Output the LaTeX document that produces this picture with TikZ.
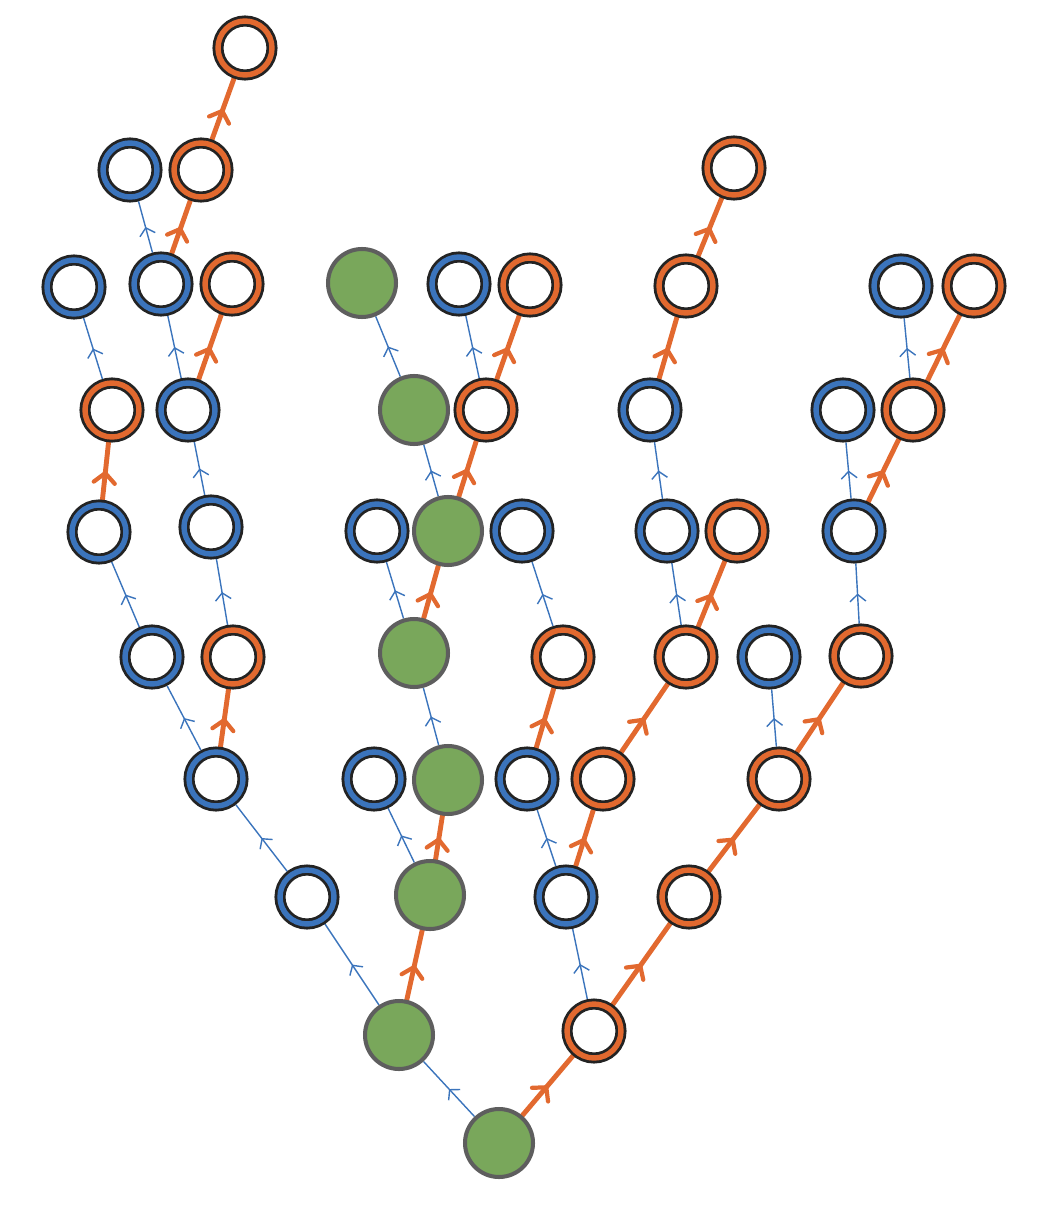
\documentclass[tikz,border=0pt]{standalone}
\usetikzlibrary{backgrounds, decorations.markings, arrows.meta}

\definecolor{ringblue}{HTML}{3B74BC}
\definecolor{ringorange}{HTML}{E2692F}
\definecolor{ringblack}{HTML}{232323}
\definecolor{dotgreen}{HTML}{79A75B}
\definecolor{dotgray}{HTML}{5E5E5E}

\tikzset{
	ring/.style={circle, fill=white, draw=ringblack, line width=1.6pt,
		double distance=3.1pt, minimum size=1.08cm, inner sep=0pt, outer sep=3.1pt},
	bluering/.style={ring, double=ringblue},
	orangering/.style={ring, double=ringorange},
	greendot/.style={circle, fill=dotgreen, draw=dotgray, line width=2.3pt,
		minimum size=1.36cm, inner sep=0pt},
	blueedge/.style={color=ringblue, line width=0.8pt, postaction={decorate},
		decoration={markings, mark=at position 0.5 with {\arrow[line width=0.8pt]{Straight Barb[length=4pt,width=9pt]}}}},
	orangeedge/.style={color=ringorange, line width=2.8pt, line cap=round, postaction={decorate},
		decoration={markings, mark=at position 0.5 with {\arrow[line width=2.4pt]{Straight Barb[length=5.5pt,width=12pt,round]}}}},
}

\begin{document}
\begin{tikzpicture}[x=0.02cm, y=-0.02cm]
\useasboundingbox (0,0) rectangle (1038,1216);

	% --- green nodes
	\foreach \n/\x/\y in {
		r0a/499/1143,
		r1a/399/1035,
		r2b/430/895,
		r3c/448/780,
		r4c/414/653,
		r5d/448/531,
		r6c/414/410,
		r7d/362/283}
	\node[greendot] (\n) at (\x,\y) {};

	% --- blue rings
	\foreach \n/\x/\y in {
		r2a/307/897, r2c/566/897,
		r3a/216/779, r3b/374/779, r3d/527/779,
		r4a/152/657, r4f/769/657,
		r5a/99/532, r5b/211/527, r5c/377/531, r5e/522/531, r5f/667/531, r5h/854/531,
		r6b/188/410, r6e/650/410, r6f/843/410,
		r7a/74/287, r7b/161/284, r7e/459/284, r7h/901/286,
		r8a/130/170}
	\node[bluering] (\n) at (\x,\y) {};

	% --- orange rings
	\foreach \n/\x/\y in {
		r1b/594/1031,
		r2d/689/897,
		r3e/603/779, r3f/779/779,
		r4b/233/657, r4d/563/657, r4e/686/657, r4g/861/656,
		r5g/737/531,
		r6a/112/410, r6d/486/410, r6g/913/410,
		r7c/232/284, r7f/530/285, r7g/686/286, r7i/974/286,
		r8b/201/170, r8c/734/168,
		r9a/245/48}
	\node[orangering] (\n) at (\x,\y) {};

	% --- edges, kept under the nodes
	\begin{scope}[on background layer]
	\foreach \a/\b in {
		r0a/r1a, r1a/r2a, r1b/r2c, r2a/r3a, r2b/r3b, r2c/r3d,
		r3a/r4a, r3c/r4c, r3f/r4f, r4a/r5a, r4b/r5b, r4c/r5c,
		r4d/r5e, r4e/r5f, r4g/r5h, r5b/r6b, r5d/r6c, r5f/r6e,
		r5h/r6f, r6a/r7a, r6b/r7b, r6c/r7d, r6d/r7e, r6g/r7h,
		r7b/r8a}
	\draw[blueedge] (\a) -- (\b);

	\foreach \a/\b in {
		r0a/r1b, r1a/r2b, r1b/r2d, r2b/r3c, r2c/r3e, r2d/r3f,
		r3a/r4b, r3d/r4d, r3e/r4e, r3f/r4g, r4c/r5d, r4e/r5g,
		r5a/r6a, r5d/r6d, r5h/r6g, r6b/r7c, r6d/r7f, r6e/r7g,
		r6g/r7i, r7b/r8b, r7g/r8c, r8b/r9a}
	\draw[orangeedge] (\a) -- (\b);
	\end{scope}

\end{tikzpicture}
\end{document}
